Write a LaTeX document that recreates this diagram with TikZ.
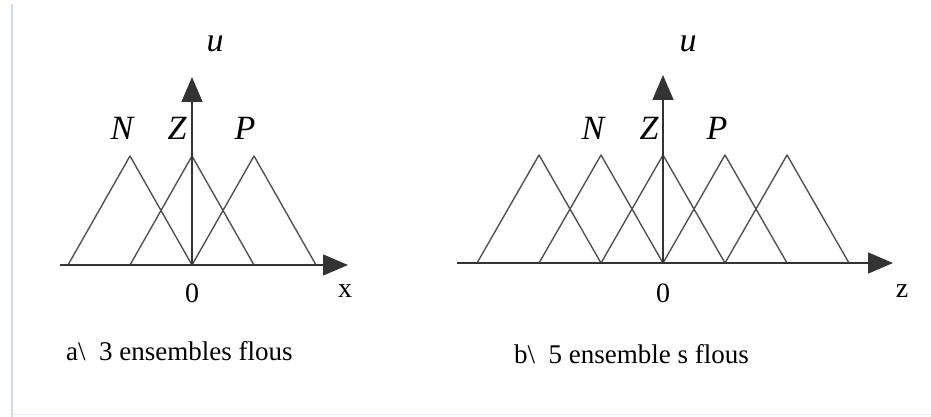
\documentclass[tikz,border=0pt]{standalone}
\usepackage{fontspec}
\setmainfont{Liberation Serif}
\usepackage{xcolor}
\usepackage{tikz}
\usetikzlibrary{arrows.meta,calc}

\definecolor{scanframe}{rgb}{0.84,0.86,0.91}
\definecolor{inkgray}{rgb}{0.2,0.2,0.2}

\begin{document}
\begin{tikzpicture}[
  x=1pt, y=-1pt,
  every node/.style={inner sep=0pt, text=black},
  axis/.style={line width=1.5pt, draw=inkgray,
    -{Triangle[length=25pt,width=21pt]}},
  fuzzy/.style={line width=1.4pt, draw=inkgray!85, line join=round},
  setlabel/.style={font=\fontsize{34}{36}\selectfont\itshape},
  ticklabel/.style={font=\fontsize{28}{30}\selectfont},
  caption/.style={font=\fontsize{27}{29}\selectfont, anchor=base west}
]
  \useasboundingbox (0,0) rectangle (931,417);

  % scan frame
  \draw[scanframe, line width=1.2pt] (12,4) -- (12,417);
  \draw[scanframe!60, line width=1pt] (12,414) -- (931,414);

  % (a) 3 fuzzy sets
  \coordinate (oa) at (192,265);
  \coordinate (xa0) at (60,265);
  \coordinate (xa1) at (348,265);
  \coordinate (ua) at (192,77);
  \foreach \k in {-1,0,1}
    \draw[fuzzy] ($(oa)+(\k*62-62,0)$) -- ($(oa)+(\k*62,-109)$) -- ($(oa)+(\k*62+62,0)$);
  \draw[axis] (xa0) -- (xa1);
  \draw[axis] (oa) -- (ua);

  \node[setlabel] (ulabA) at (215,44) {u};
  \node[setlabel] (nA) at (122,128) {N};
  \node[setlabel] (zA) at (177,128) {Z};
  \node[setlabel] (pA) at (245,128) {P};
  \node[ticklabel] (zeroA) at (192,293) {0};
  \node[ticklabel] (xlab) at (345,291) {x};
  \node[caption] (capA) at (66,360) {a\textbackslash\ \ 3 ensembles flous};

  % (b) 5 fuzzy sets
  \coordinate (ob) at (663,263);
  \coordinate (xb0) at (457,263);
  \coordinate (xb1) at (893,263);
  \coordinate (ub) at (663,75);
  \foreach \k in {-2,-1,0,1,2}
    \draw[fuzzy] ($(ob)+(\k*62-62,0)$) -- ($(ob)+(\k*62,-108)$) -- ($(ob)+(\k*62+62,0)$);
  \draw[axis] (xb0) -- (xb1);
  \draw[axis] (ob) -- (ub);

  \node[setlabel] (ulabB) at (688,44) {u};
  \node[setlabel] (nB) at (593,128) {N};
  \node[setlabel] (zB) at (649,128) {Z};
  \node[setlabel] (pB) at (717,128) {P};
  \node[ticklabel] (zeroB) at (663,293) {0};
  \node[ticklabel] (zlab) at (902,291) {z};
  \node[caption] (capB) at (514,363) {b\textbackslash\ \ 5 ensemble s flous};
\end{tikzpicture}
\end{document}
